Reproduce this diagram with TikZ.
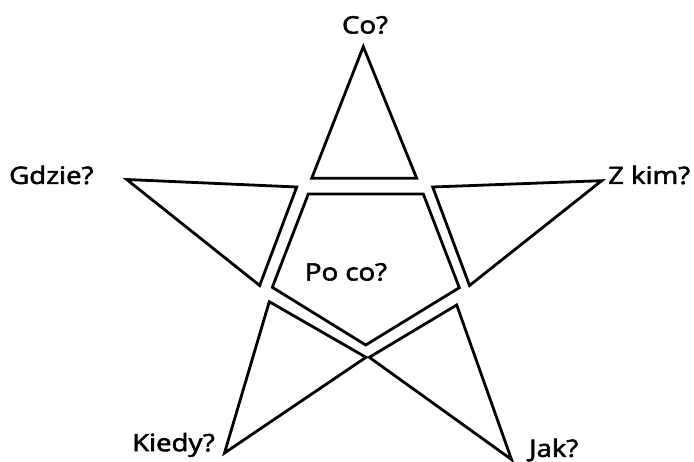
\documentclass[tikz,border=0pt]{standalone}
\usepackage{fontspec}
\setmainfont{Open Sans}
\newfontfamily\lblfont{Open Sans}[FakeBold=2.2]
\newcommand\widetxt[1]{\scalebox{1.15}[1]{#1}}
\begin{document}
\begin{tikzpicture}[x=1pt,y=-1pt,
  part/.style={draw=black,line width=2.8pt,line join=miter,fill=white},
  lbl/.style={font=\lblfont\fontsize{24}{28}\selectfont,inner sep=0pt,text=black}]
\useasboundingbox (0,0) rectangle (694,462);
% centre pentagon
\draw[part] (308.3,194) -- (423.3,194) -- (459.3,287.7) -- (365.7,345) -- (272.3,287.3) -- cycle;
% top triangle
\draw[part] (363.3,46.7) -- (416.7,178.3) -- (311.7,178.3) -- cycle;
% left triangle
\draw[part] (126.7,179.5) -- (296.7,187) -- (259.7,285.5) -- cycle;
% right triangle
\draw[part] (601.7,180.7) -- (432.7,187) -- (469.5,285.5) -- cycle;
% bottom-left triangle
\draw[part] (269.3,301.7) -- (366,357.3) -- (224.5,453) -- cycle;
% bottom-right triangle
\draw[part] (456.7,305) -- (369.3,357.3) -- (511.5,459.5) -- cycle;
% labels
\node[lbl] (co) at (365,25) {\widetxt{Co?}};
\node[lbl,anchor=west] (gdzie) at (9,175) {\widetxt{Gdzie?}};
\node[lbl,anchor=west] (zkim) at (608,175) {\widetxt{Z kim?}};
\node[lbl] (poco) at (346,272) {\widetxt{Po co?}};
\node[lbl,anchor=west] (kiedy) at (132,445) {\widetxt{Kiedy?}};
\node[lbl,anchor=west] (jak) at (529,450) {\widetxt{Jak?}};
\end{tikzpicture}
\end{document}
